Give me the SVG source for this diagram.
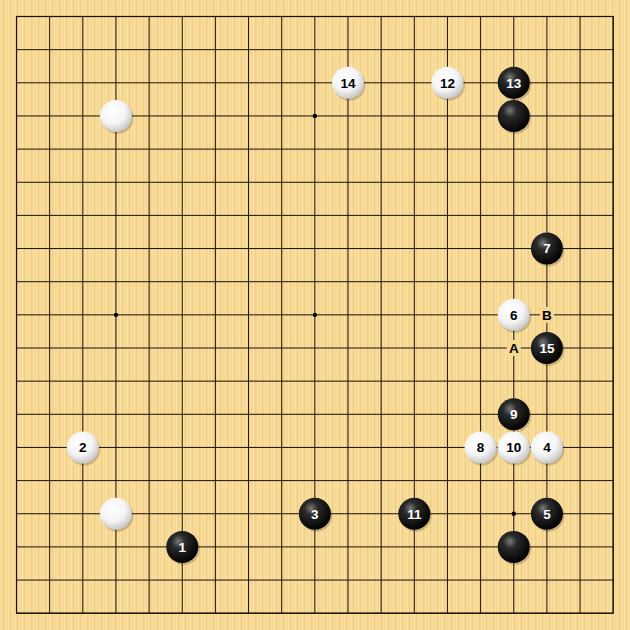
<svg xmlns="http://www.w3.org/2000/svg" width="630" height="630" viewBox="0 0 630 630">
<defs>
<pattern id="wood" width="7" height="630" patternUnits="userSpaceOnUse">
<rect width="7" height="630" fill="#F7D893"/>
<rect x="1" width="1" height="630" fill="#FBE2A8"/>
<rect x="3" width="0.8" height="630" fill="#F2CD82"/>
<rect x="5" width="1" height="630" fill="#F9DD9F"/>
</pattern>
<radialGradient id="gb" cx="0.38" cy="0.33" r="0.7">
<stop offset="0" stop-color="#7a7a7a"/>
<stop offset="0.3" stop-color="#2a2a2a"/>
<stop offset="1" stop-color="#000"/>
</radialGradient>
<radialGradient id="gw" cx="0.4" cy="0.35" r="0.72">
<stop offset="0" stop-color="#ffffff"/>
<stop offset="0.55" stop-color="#f4f4f4"/>
<stop offset="1" stop-color="#bdbdbd"/>
</radialGradient>
<style>
.b{fill:url(#gb)}
.w{fill:url(#gw)}
.sh{fill:#000;opacity:0.18}
.tb{font-family:"Liberation Sans",Arial,sans-serif;font-weight:bold;font-size:13.5px;fill:#fff;text-anchor:middle}
.tw{font-family:"Liberation Sans",Arial,sans-serif;font-weight:bold;font-size:13.5px;fill:#000;text-anchor:middle}
.lbl{font-family:"Liberation Sans",Arial,sans-serif;font-weight:bold;font-size:13.5px;fill:#000;text-anchor:middle}
</style>
<g id="bs"><circle cx="1.5" cy="2" r="16" class="sh"/><circle r="16" class="b"/></g>
<g id="ws"><circle cx="1.5" cy="2" r="16" class="sh"/><circle r="16" class="w"/></g>
</defs>
<rect width="630" height="630" fill="url(#wood)"/>
<g id="grid" stroke="#1a1206" stroke-width="1" fill="none">
<path d="M16.5 16.5V613.2M49.65 16.5V613.2M82.8 16.5V613.2M115.95 16.5V613.2M149.1 16.5V613.2M182.25 16.5V613.2M215.4 16.5V613.2M248.55 16.5V613.2M281.7 16.5V613.2M314.85 16.5V613.2M348 16.5V613.2M381.15 16.5V613.2M414.3 16.5V613.2M447.45 16.5V613.2M480.6 16.5V613.2M513.75 16.5V613.2M546.9 16.5V613.2M580.05 16.5V613.2M613.2 16.5V613.2"/>
<path d="M16.5 16.5H613.2M16.5 49.65H613.2M16.5 82.8H613.2M16.5 115.95H613.2M16.5 149.1H613.2M16.5 182.25H613.2M16.5 215.4H613.2M16.5 248.55H613.2M16.5 281.7H613.2M16.5 314.85H613.2M16.5 348H613.2M16.5 381.15H613.2M16.5 414.3H613.2M16.5 447.45H613.2M16.5 480.6H613.2M16.5 513.75H613.2M16.5 546.9H613.2M16.5 580.05H613.2M16.5 613.2H613.2"/>
<rect x="16.5" y="16.5" width="596.7" height="596.7" stroke-width="1.2"/>
</g>
<g id="stars" fill="#000">
<circle cx="115.95" cy="115.95" r="2.2"/><circle cx="314.85" cy="115.95" r="2.2"/><circle cx="513.75" cy="115.95" r="2.2"/>
<circle cx="115.95" cy="314.85" r="2.2"/><circle cx="314.85" cy="314.85" r="2.2"/><circle cx="513.75" cy="314.85" r="2.2"/>
<circle cx="115.95" cy="513.75" r="2.2"/><circle cx="314.85" cy="513.75" r="2.2"/><circle cx="513.75" cy="513.75" r="2.2"/>
</g>
<g id="stones">
<g id="w-d16"><use href="#ws" x="115.95" y="115.95"/></g>
<g id="w-14"><use href="#ws" x="348" y="82.8"/><text class="tw" x="348" y="87.6">14</text></g>
<g id="w-12"><use href="#ws" x="447.45" y="82.8"/><text class="tw" x="447.45" y="87.6">12</text></g>
<g id="b-13"><use href="#bs" x="513.75" y="82.8"/><text class="tb" x="513.75" y="87.6">13</text></g>
<g id="b-q16"><use href="#bs" x="513.75" y="115.95"/></g>
<g id="b-7"><use href="#bs" x="546.9" y="248.55"/><text class="tb" x="546.9" y="253.3">7</text></g>
<g id="w-6"><use href="#ws" x="513.75" y="314.85"/><text class="tw" x="513.75" y="319.6">6</text></g>
<g id="lbl-B"><rect x="539.9" y="306.85" width="14" height="16" fill="#F7D893"/><text class="lbl" x="546.9" y="319.6">B</text></g>
<g id="lbl-A"><rect x="506.75" y="340" width="14" height="16" fill="#F7D893"/><text class="lbl" x="513.75" y="352.8">A</text></g>
<g id="b-15"><use href="#bs" x="546.9" y="348"/><text class="tb" x="546.9" y="352.8">15</text></g>
<g id="b-9"><use href="#bs" x="513.75" y="414.3"/><text class="tb" x="513.75" y="419.1">9</text></g>
<g id="w-2"><use href="#ws" x="82.8" y="447.45"/><text class="tw" x="82.8" y="452.2">2</text></g>
<g id="w-8"><use href="#ws" x="480.6" y="447.45"/><text class="tw" x="480.6" y="452.2">8</text></g>
<g id="w-10"><use href="#ws" x="513.75" y="447.45"/><text class="tw" x="513.75" y="452.2">10</text></g>
<g id="w-4"><use href="#ws" x="546.9" y="447.45"/><text class="tw" x="546.9" y="452.2">4</text></g>
<g id="w-d4"><use href="#ws" x="115.95" y="513.75"/></g>
<g id="b-3"><use href="#bs" x="314.85" y="513.75"/><text class="tb" x="314.85" y="518.5">3</text></g>
<g id="b-11"><use href="#bs" x="414.3" y="513.75"/><text class="tb" x="414.3" y="518.5">11</text></g>
<g id="b-5"><use href="#bs" x="546.9" y="513.75"/><text class="tb" x="546.9" y="518.5">5</text></g>
<g id="b-1"><use href="#bs" x="182.25" y="546.9"/><text class="tb" x="182.25" y="551.7">1</text></g>
<g id="b-q3"><use href="#bs" x="513.75" y="546.9"/></g>
</g>
</svg>
